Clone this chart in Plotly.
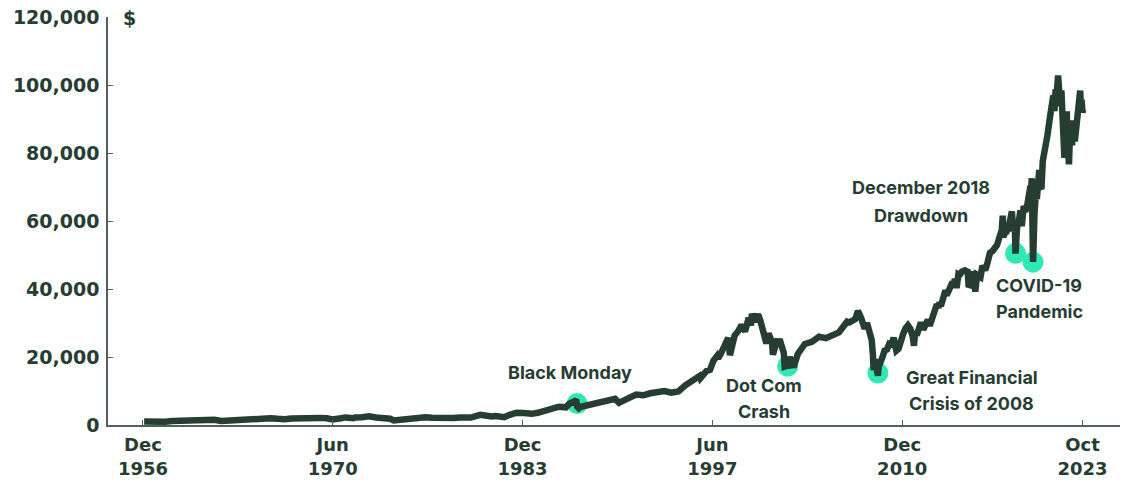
import plotly.graph_objects as go

# ---- data (growth of $1,000) ----
dates = [
    "1956-12-31", "1957-03-31", "1957-07-31", "1957-10-22", "1957-12-31", "1958-06-30", "1958-12-31",
    "1959-06-30", "1959-12-31", "1960-06-30", "1960-10-25", "1960-12-31", "1961-06-30", "1961-12-31",
    "1962-06-26", "1962-12-31", "1963-06-30", "1963-12-31", "1964-06-30", "1964-12-31", "1965-06-30",
    "1965-12-31", "1966-06-30", "1966-10-07", "1966-12-31", "1967-06-30", "1967-12-31", "1968-03-05",
    "1968-11-29", "1969-06-30", "1969-12-31", "1970-05-26", "1970-12-31", "1971-04-28", "1971-11-23",
    "1971-12-31", "1972-06-30", "1972-12-31", "1973-06-30", "1973-12-31", "1974-06-30", "1974-10-03",
    "1974-12-31", "1975-06-30", "1975-12-31", "1976-06-30", "1976-12-31", "1977-06-30", "1977-12-31",
    "1978-03-06", "1978-08-31", "1978-12-31", "1979-06-30", "1979-12-31", "1980-03-27", "1980-11-28",
    "1980-12-31", "1981-06-30", "1981-09-25", "1981-12-31", "1982-08-12", "1982-12-31", "1983-06-30",
    "1983-12-31", "1984-07-24", "1984-12-31", "1985-06-30", "1985-12-31", "1986-06-30", "1986-12-31",
    "1987-03-31", "1987-08-25", "1987-09-30", "1987-10-19", "1987-11-30", "1987-12-31", "1988-06-30",
    "1988-12-31", "1989-06-30", "1989-12-31", "1990-06-30", "1990-10-11", "1990-12-31", "1991-06-30",
    "1991-12-31", "1992-06-30", "1992-12-31", "1993-06-30", "1993-12-31", "1994-06-30", "1994-12-31",
    "1995-06-30", "1995-12-31", "1996-03-31", "1996-06-30", "1996-07-24", "1996-09-30", "1996-12-31",
    "1997-03-31", "1997-06-30", "1997-09-30", "1997-10-27", "1997-12-31", "1998-03-31", "1998-07-17",
    "1998-08-31", "1998-09-30", "1998-12-31", "1999-03-31", "1999-06-30", "1999-09-30", "1999-12-31",
    "2000-02-29", "2000-03-24", "2000-05-31", "2000-08-31", "2000-10-31", "2000-12-31", "2001-04-04",
    "2001-05-31", "2001-08-31", "2001-09-21", "2001-12-31", "2002-03-31", "2002-06-30", "2002-07-23",
    "2002-09-30", "2002-10-09", "2002-11-30", "2002-12-31", "2003-03-11", "2003-06-30", "2003-12-31",
    "2004-06-30", "2004-12-31", "2005-06-30", "2005-12-31", "2006-05-31", "2006-12-31", "2007-02-28",
    "2007-07-31", "2007-10-09", "2007-12-31", "2008-03-31", "2008-05-31", "2008-09-30", "2008-10-31",
    "2008-11-20", "2008-12-31", "2009-01-31", "2009-02-28", "2009-03-09", "2009-03-31", "2009-04-30",
    "2009-06-30", "2009-08-31", "2009-10-31", "2009-12-31", "2010-02-28", "2010-04-23", "2010-05-31",
    "2010-07-02", "2010-08-31", "2010-10-31", "2010-12-31", "2011-02-28", "2011-04-29", "2011-06-30",
    "2011-08-31", "2011-10-03", "2011-10-31", "2011-12-31", "2012-03-31", "2012-05-31", "2012-07-31",
    "2012-09-30", "2012-11-15", "2012-12-31", "2013-02-28", "2013-05-21", "2013-06-30", "2013-07-31",
    "2013-08-31", "2013-10-31", "2013-12-31", "2014-01-31", "2014-03-31", "2014-06-30", "2014-07-31",
    "2014-08-31", "2014-10-15", "2014-11-30", "2014-12-31", "2015-02-28", "2015-05-21", "2015-07-31",
    "2015-08-25", "2015-09-30", "2015-11-03", "2015-12-31", "2016-01-31", "2016-02-11", "2016-03-31",
    "2016-06-27", "2016-08-15", "2016-10-31", "2016-12-31", "2017-02-28", "2017-04-30", "2017-06-30",
    "2017-08-31", "2017-10-31", "2017-12-31", "2018-01-26", "2018-02-08", "2018-03-31", "2018-04-30",
    "2018-06-30", "2018-08-31", "2018-09-20", "2018-10-29", "2018-11-30", "2018-12-03", "2018-12-24",
    "2019-01-31", "2019-03-31", "2019-04-30", "2019-06-03", "2019-07-26", "2019-08-31", "2019-10-31",
    "2019-12-31", "2020-01-31", "2020-02-19", "2020-03-23", "2020-04-30", "2020-06-08", "2020-06-30",
    "2020-08-31", "2020-09-23", "2020-10-30", "2020-11-30", "2020-12-31", "2021-01-31", "2021-03-31",
    "2021-05-31", "2021-06-30", "2021-08-31", "2021-09-30", "2021-10-31", "2021-11-30", "2022-01-03",
    "2022-01-31", "2022-02-28", "2022-03-29", "2022-04-30", "2022-05-20", "2022-06-16", "2022-06-30",
    "2022-07-31", "2022-08-16", "2022-08-31", "2022-09-30", "2022-10-12", "2022-10-31", "2022-11-30",
    "2022-12-31", "2023-01-31", "2023-02-02", "2023-03-13", "2023-04-30", "2023-05-31", "2023-06-30",
    "2023-07-31", "2023-08-18", "2023-09-05", "2023-09-29", "2023-10-13",
]
values = [
    1000, 945, 1027, 879, 857, 969, 1183,
    1254, 1284, 1219, 1144, 1245, 1384, 1534,
    1174, 1352, 1487, 1607, 1751, 1817, 1802,
    1980, 1815, 1642, 1721, 1942, 2068, 1933,
    2323, 2094, 1974, 1642, 1976, 2229, 2012,
    2188, 2295, 2531, 2235, 2092, 1843, 1361,
    1470, 2040, 1933, 2235, 2304, 2154, 2038,
    1912, 2214, 2059, 2205, 2312, 2188, 3011,
    2910, 2812, 2490, 2627, 2295, 3013, 3602,
    3534, 3283, 3583, 4112, 4528, 5375, 5190,
    6251, 7068, 6896, 5400, 4935, 5295, 5861,
    5951, 6814, 7573, 7672, 6515, 7076, 7955,
    8938, 8746, 9337, 9654, 9997, 9521, 9843,
    11675, 13199, 13833, 14371, 13713, 14729, 15873,
    16225, 18968, 20301, 19600, 20796, 23612, 25620,
    20515, 21794, 26342, 27568, 29417, 27488, 31487,
    29282, 32720, 30444, 32524, 30632, 28294, 24000,
    26912, 24293, 20680, 24604, 24589, 21211, 17200,
    17472, 16650, 20065, 18854, 17000, 20884, 23828,
    24448, 25971, 25530, 26751, 27218, 30394, 30148,
    31187, 33540, 31468, 28345, 30011, 24996, 20761,
    16115, 19358, 17700, 15753, 14500, 17100, 18700,
    19701, 21870, 22200, 23897, 23670, 25700, 23350,
    21900, 22490, 25360, 26950, 28440, 29300, 28300,
    26120, 23300, 26858, 26950, 30184, 28080, 29560,
    30874, 29200, 30563, 32460, 35500, 34423, 36120,
    34990, 37640, 39611, 38200, 40120, 42007, 41380,
    42930, 40300, 44310, 44122, 45100, 45500, 45080,
    40570, 41146, 45000, 43801, 41578, 39200, 44140,
    43500, 46800, 45560, 47977, 50650, 51090, 51934,
    52970, 55190, 57295, 61570, 55310, 56594, 56750,
    58260, 62180, 62810, 56900, 59150, 59800, 50384,
    57950, 60740, 63129, 58500, 64500, 62720, 65100,
    69236, 69120, 72566, 47947, 62413, 68800, 66439,
    75011, 69900, 70075, 77610, 80493, 79600, 85139,
    90090, 92096, 96920, 92310, 98700, 97870, 102791,
    96770, 93730, 98400, 88550, 83300, 78579, 81120,
    88510, 92260, 84760, 76840, 76655, 82980, 87440,
    82281, 87360, 89573, 83400, 89350, 89570, 95370,
    98340, 93200, 95700, 91894, 92700,
]

event_names = ["Black Monday", "Dot Com Crash", "Great Financial Crisis of 2008",
               "December 2018 Drawdown", "COVID-19 Pandemic"]
event_dates = ["1987-10-19", "2002-10-09", "2009-03-09", "2018-12-24", "2020-03-23"]
event_values = [6300, 17300, 15300, 50500, 47900]

x_tick_dates = ["1956-12-01", "1970-06-01", "1983-12-01", "1997-06-01", "2010-12-01", "2023-10-01"]
x_tick_labels = ["Dec<br>1956", "Jun<br>1970", "Dec<br>1983", "Jun<br>1997", "Dec<br>2010", "Oct<br>2023"]
y_tick_values = [0, 20000, 40000, 60000, 80000, 100000, 120000]
y_tick_labels = ["0", "20,000", "40,000", "60,000", "80,000", "100,000", "120,000"]

DARK = "#263D32"
AXIS = "#4F6158"
MINT = "#2FE8B2"

fig = go.Figure()
fig.add_trace(go.Scatter(
    x=event_dates, y=event_values, mode="markers", text=event_names,
    marker=dict(size=21, color=MINT, line=dict(width=0)),
    hoverinfo="text", showlegend=False,
))
fig.add_trace(go.Scatter(
    x=dates, y=values, mode="lines",
    line=dict(color=DARK, width=6.5),
    showlegend=False,
))

x_tick_font = dict(family="DejaVu Sans", size=18, color=DARK, weight="bold")
y_tick_font = dict(family="DejaVu Sans", size=19, color=DARK, weight="bold")
ann_font = dict(family="Inter", size=18, color=DARK, weight="bold")

fig.update_layout(
    width=1125, height=480,
    margin=dict(l=108, r=5, t=17, b=55),
    paper_bgcolor="white", plot_bgcolor="white",
    xaxis=dict(
        type="date", range=["1954-06-06", "2026-05-30"],
        tickmode="array", tickvals=x_tick_dates, ticktext=x_tick_labels,
        ticks="inside", ticklen=5, tickwidth=1, tickcolor=AXIS,
        showline=True, linecolor=AXIS, linewidth=1.5,
        showgrid=False, zeroline=False, tickfont=x_tick_font,
        ticklabelstandoff=3, automargin=False,
    ),
    yaxis=dict(
        range=[0, 120000],
        tickmode="array", tickvals=y_tick_values, ticktext=y_tick_labels,
        ticks="inside", ticklen=5, tickwidth=1, tickcolor=AXIS,
        showline=True, linecolor=AXIS, linewidth=1.5,
        showgrid=False, zeroline=False, tickfont=y_tick_font,
        ticklabelstandoff=3, automargin=False,
    ),
)

labels = [
    ("Black Monday", 0.4565, 0.1275),
    ("Dot Com", 0.6482, 0.098),
    ("Crash", 0.6482, 0.0319),
    ("Great Financial", 0.8533, 0.1176),
    ("Crisis of 2008", 0.8528, 0.0539),
    ("December 2018", 0.8034, 0.5809),
    ("Drawdown", 0.8034, 0.5147),
    ("COVID-19", 0.92, 0.3407),
    ("Pandemic", 0.92, 0.277),
]
for txt, xp, yp in labels:
    fig.add_annotation(text=txt, x=xp, y=yp, xref="paper", yref="paper",
                       xanchor="center", yanchor="middle", showarrow=False, font=ann_font)

fig.add_annotation(text="$", x=0.0217, y=0.9975, xref="paper", yref="paper",
                   xanchor="center", yanchor="middle", showarrow=False, font=y_tick_font)

fig.write_html("out.html")
